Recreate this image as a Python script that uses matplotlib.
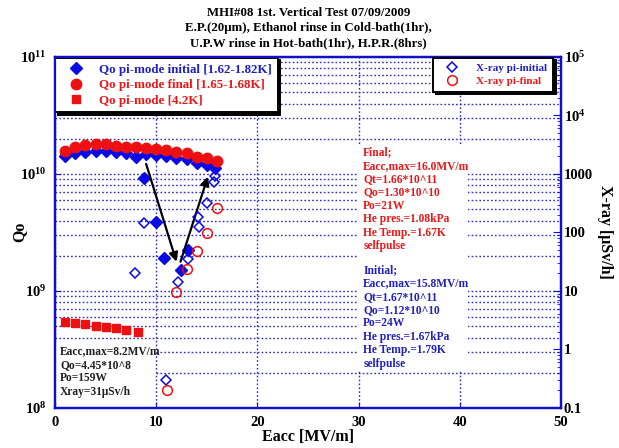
import math
import matplotlib
matplotlib.use("Agg")
import matplotlib.pyplot as plt
from matplotlib.ticker import FixedLocator, FuncFormatter, LogLocator, NullFormatter
from matplotlib.patches import Rectangle

# ---- data -------------------------------------------------------------
# Qo, pi-mode initial run (1.62-1.82 K)
eacc_init = [1, 2, 3, 4, 5, 6, 7, 8, 9, 10, 11, 12, 13, 14, 15, 15.8,
             8.8, 10.0, 10.8, 12.4, 13.1]
qo_init = [1.43e10, 1.50e10, 1.55e10, 1.57e10, 1.57e10, 1.55e10, 1.52e10,
           1.41e10, 1.47e10, 1.45e10, 1.43e10, 1.36e10, 1.34e10, 1.25e10,
           1.19e10, 1.12e10,
           9.2e9, 3.9e9, 1.93e9, 1.51e9, 2.24e9]

# Qo, pi-mode final run (1.65-1.68 K)
eacc_final = [1, 2, 3, 4, 5, 6, 7, 8, 9, 10, 11, 12, 13, 14, 15, 16]
qo_final = [1.58e10, 1.71e10, 1.77e10, 1.80e10, 1.79e10, 1.74e10, 1.71e10,
            1.69e10, 1.67e10, 1.64e10, 1.60e10, 1.54e10, 1.50e10, 1.41e10,
            1.36e10, 1.30e10]

# Qo, pi-mode at 4.2 K
eacc_42k = [1, 2, 3, 4, 5, 6, 7, 8.2]
qo_42k = [5.47e8, 5.36e8, 5.22e8, 5.05e8, 4.95e8, 4.80e8, 4.61e8, 4.45e8]

# X-ray dose rate [uSv/h]
eacc_xray_init = [7.9, 8.8, 12.2, 13.1, 14.2, 14.1, 15.0, 15.7, 15.8, 11.0]
xray_init = [20, 147, 14, 35, 126, 182, 315, 738, 925, 0.30]
eacc_xray_final = [12.0, 13.0, 14.0, 15.0, 16.0, 11.1]
xray_final = [9.7, 23.5, 48, 99, 259, 0.20]

# processing path arrows (start -> end) in (Eacc, Qo)
arrow_paths = [((9.0, 1.22e10), (12.0, 1.78e9)),
               ((12.4, 1.78e9), (15.1, 9.5e9))]

x_ticks = [0, 10, 20, 30, 40, 50]
qo_ticks = [1e8, 1e9, 1e10, 1e11]
xray_ticks = [0.1, 1, 10, 100, 1000, 1e4, 1e5]

title_lines = ["MHI#08 1st. Vertical Test 07/09/2009",
               "E.P.(20\u03bcm), Ethanol rinse in Cold-bath(1hr),",
               "U.P.W rinse in Hot-bath(1hr), H.P.R.(8hrs)"]
final_notes = ["Final;", "Eacc,max=16.0MV/m", "Qt=1.66*10^11", "Qo=1.30*10^10",
               "Po=21W", "He pres.=1.08kPa", "He Temp.=1.67K", "selfpulse"]
initial_notes = ["Initial;", "Eacc,max=15.8MV/m", "Qt=1.67*10^11", "Qo=1.12*10^10",
                 "Po=24W", "He pres.=1.67kPa", "He Temp.=1.79K", "selfpulse"]
notes_42k = ["Eacc,max=8.2MV/m", "Qo=4.45*10^8", "Po=159W", "Xray=31\u03bcSv/h"]

# ---- style ------------------------------------------------------------
plt.rcParams["font.family"] = ["Liberation Serif", "DejaVu Serif"]
plt.rcParams["font.weight"] = "bold"
plt.rcParams["mathtext.fontset"] = "custom"
plt.rcParams["mathtext.rm"] = "Liberation Serif:bold"
plt.rcParams["mathtext.bf"] = "Liberation Serif:bold"
plt.rcParams["mathtext.it"] = "Liberation Serif:italic:bold"
plt.rcParams["mathtext.default"] = "rm"

AXIS_BLUE = "#1010c8"
GRID_BLUE = "#2a2ad0"
MARK_BLUE = "#0a0ae6"
MARK_RED = "#ee1010"
TEXT_RED = "#e81818"
TEXT_BLUE = "#2020c0"

fig = plt.figure(figsize=(6.19, 4.48), dpi=100)
ax = fig.add_axes([0.0889, 0.0893, 0.8174, 0.7835])

ax.set_xlim(0, 50)
ax.set_yscale("log")
ax.set_ylim(1e8, 1e11)
ax.set_axisbelow(True)
ax.xaxis.set_major_locator(FixedLocator(x_ticks))
ax.yaxis.set_major_locator(FixedLocator(qo_ticks))
ax.yaxis.set_minor_locator(LogLocator(base=10, subs=range(2, 10)))
ax.yaxis.set_minor_formatter(NullFormatter())
ax.yaxis.set_major_formatter(FuncFormatter(lambda v, p: "10$^{%d}$" % round(math.log10(v))))
ax.grid(True, which="both", axis="y", color=GRID_BLUE, ls=(0, (1.2, 1.6)), lw=1.0)
ax.grid(True, which="major", axis="x", color=GRID_BLUE, ls=(0, (1.2, 1.6)), lw=1.0)
ax.tick_params(which="major", direction="in", length=4, color=AXIS_BLUE, labelsize=10.5, pad=6)
ax.tick_params(which="minor", length=0)
for s in ax.spines.values():
    s.set_color(AXIS_BLUE)
    s.set_linewidth(1.6)

# white panels behind the annotation blocks
ax.add_patch(Rectangle((0.597, 0.108), 0.22, 0.642, transform=ax.transAxes,
                       facecolor="white", edgecolor="none", zorder=1))
ax.add_patch(Rectangle((0.0, 0.02), 0.197, 0.162, transform=ax.transAxes,
                       facecolor="white", edgecolor="none", zorder=1))

h_init, = ax.plot(eacc_init, qo_init, "D", color=MARK_BLUE, ms=6, mec=MARK_BLUE,
                  ls="none", zorder=3, label="Qo pi-mode initial [1.62-1.82K]")
h_final, = ax.plot(eacc_final, qo_final, "o", color=MARK_RED, ms=7.5, mec=MARK_RED,
                   ls="none", zorder=4, label="Qo pi-mode final [1.65-1.68K]")
h_42k, = ax.plot(eacc_42k, qo_42k, "s", color=MARK_RED, ms=6.2, mec=MARK_RED,
                 ls="none", zorder=3, label="Qo pi-mode [4.2K]")

for start, end in arrow_paths:
    ax.annotate("", xy=end, xytext=start,
                arrowprops=dict(arrowstyle="-|>", color="black", lw=1.6,
                                mutation_scale=13, shrinkA=0, shrinkB=0),
                zorder=5)

leg1 = ax.legend(handles=[h_init, h_final, h_42k], loc="upper left",
                 bbox_to_anchor=(0.0, 0.998), borderaxespad=0.0, fontsize=9.4,
                 frameon=True, fancybox=False, framealpha=1, edgecolor="black",
                 shadow={"color": "black", "alpha": 1.0},
                 handletextpad=0.6, borderpad=0.45, labelspacing=0.25,
                 handlelength=2.3)
leg1.get_frame().set_linewidth(1.4)
for txt, c in zip(leg1.get_texts(), [TEXT_BLUE, TEXT_RED, TEXT_RED]):
    txt.set_color(c)
leg1.set_zorder(6)

ax.text(0.609, 0.745, "\n".join(final_notes), transform=ax.transAxes,
        color=TEXT_RED, fontsize=8.3, va="top", ha="left", linespacing=1.15, zorder=6)
ax.text(0.609, 0.41, "\n".join(initial_notes), transform=ax.transAxes,
        color=TEXT_BLUE, fontsize=8.3, va="top", ha="left", linespacing=1.15, zorder=6)
ax.text(0.01, 0.178, "\n".join(notes_42k), transform=ax.transAxes,
        color="#202020", fontsize=8.3, va="top", ha="left", linespacing=1.15, zorder=6)

# ---- right axis: X-ray --------------------------------------------------
ax2 = ax.twinx()
ax2.set_yscale("log")
ax2.set_ylim(0.1, 1e5)
ax2.yaxis.set_major_locator(FixedLocator(xray_ticks))
ax2.yaxis.set_minor_locator(LogLocator(base=10, subs=range(2, 10)))
ax2.yaxis.set_minor_formatter(NullFormatter())


def xray_fmt(v, pos):
    if v < 1:
        return "%g" % v
    if v < 1e4:
        return "%d" % round(v)
    return "10$^{%d}$" % round(math.log10(v))


ax2.yaxis.set_major_formatter(FuncFormatter(xray_fmt))
ax2.tick_params(which="major", direction="in", length=6, color=AXIS_BLUE, labelsize=10.5, pad=2)
ax2.tick_params(which="minor", direction="in", length=3, color=AXIS_BLUE)
for s in ax2.spines.values():
    s.set_color(AXIS_BLUE)
    s.set_linewidth(1.6)

h_xi, = ax2.plot(eacc_xray_init, xray_init, "D", mfc="none", mec=MARK_BLUE, ms=5,
                 mew=1.1, ls="none", zorder=3, label="X-ray pi-initial")
h_xf, = ax2.plot(eacc_xray_final, xray_final, "o", mfc="none", mec=MARK_RED, ms=7,
                 mew=1.1, ls="none", zorder=3, label="X-ray pi-final")

leg2 = ax2.legend(handles=[h_xi, h_xf], loc="upper right",
                  bbox_to_anchor=(0.984, 0.998), borderaxespad=0.0, fontsize=8,
                  frameon=True, fancybox=False, framealpha=1, edgecolor="black",
                  shadow={"color": "black", "alpha": 1.0},
                  handletextpad=1.0, borderpad=0.5, labelspacing=0.3,
                  handlelength=2.4)
leg2.get_frame().set_linewidth(1.4)
for txt, c in zip(leg2.get_texts(), [TEXT_BLUE, TEXT_RED]):
    txt.set_color(c)

# ---- labels and title -----------------------------------------------------
fig.text(0.498, 0.024, "Eacc [MV/m]", ha="center", va="center", fontsize=11.5)
fig.text(0.032, 0.482, "Qo", ha="center", va="center", rotation=90, fontsize=11.5)
fig.text(0.977, 0.482, "X-ray [\u03bcSv/h]", ha="center", va="center", rotation=-90, fontsize=11.5)
fig.text(0.498, 0.985, "\n".join(title_lines), ha="center", va="top",
         fontsize=9.3, linespacing=1.35)

fig.savefig("out.png", dpi=100)
